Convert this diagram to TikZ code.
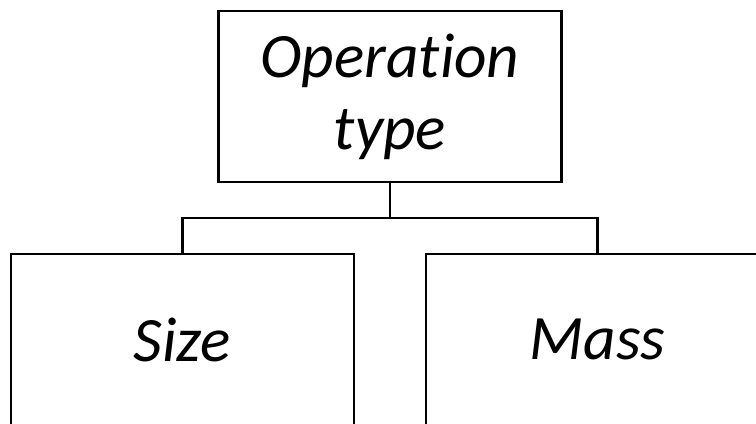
\documentclass[tikz,border=0pt]{standalone}
\usepackage{fontspec}
\setmainfont{Carlito}[Ligatures={NoCommon,NoRare}]
\tikzset{
    box/.style={draw=black, line width=1.4pt, minimum width=6.86cm, minimum height=3.42cm,
        inner sep=0pt, align=center, font=\fontsize{36}{41}\selectfont\itshape},
    link/.style={draw=black, line width=1.3pt}
}

\begin{document}
\begin{tikzpicture}[x=0.02cm, y=-0.02cm]
    \useasboundingbox (0,0) rectangle (756,423);
    \clip (0,0) rectangle (756,423);
    \node[box] (optype) at (390,96.5) {Operation\\type};
    \node[box] (size) at (182.5,339.5) {Size};
    \node[box] (mass) at (597.5,339.5) {Mass};
    \coordinate (fork) at (390,218);
    \draw[link] (optype.south) -- (fork);
    \draw[link] (fork) -| (size.north);
    \draw[link] (fork) -| (mass.north);
  \end{tikzpicture}
\end{document}
